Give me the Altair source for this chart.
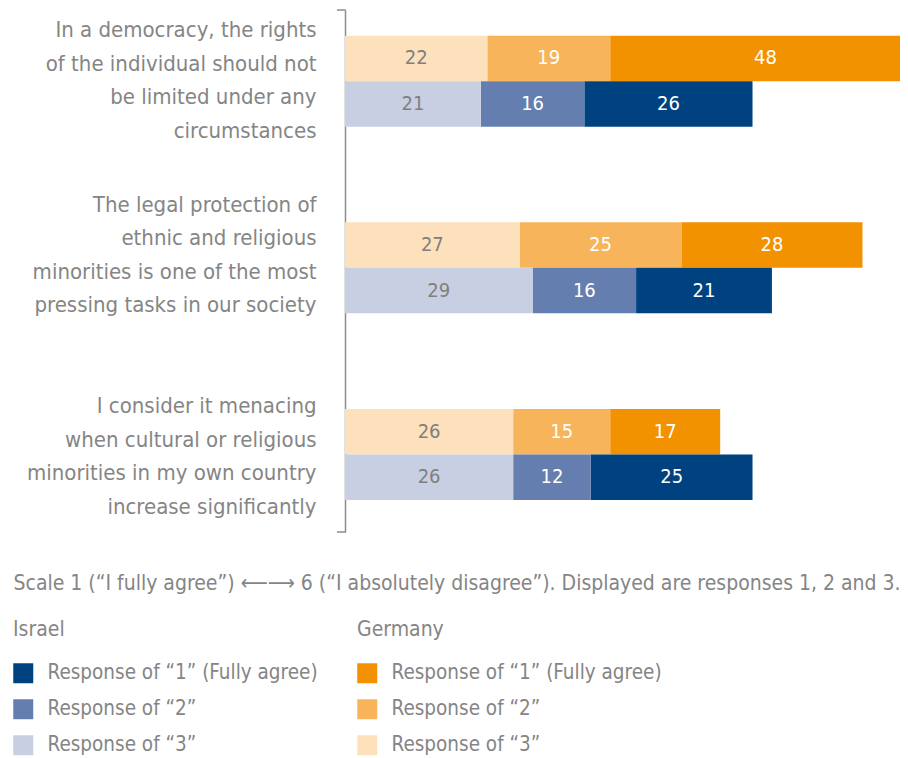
import altair as alt
import pandas as pd

questions = [
    "In a democracy, the rights|of the individual should not|be limited under any|circumstances",
    "The legal protection of|ethnic and religious|minorities is one of the most|pressing tasks in our society",
    "I consider it menacing|when cultural or religious|minorities in my own country|increase significantly",
]
countries = ["Germany", "Israel"]
responses = [1, 2, 3]
resp_labels = ["Response of \u201c1\u201d (Fully agree)", "Response of \u201c2\u201d", "Response of \u201c3\u201d"]

israel_1 = [26, 21, 25]
israel_2 = [16, 16, 12]
israel_3 = [21, 29, 26]
germany_1 = [48, 28, 17]
germany_2 = [19, 25, 15]
germany_3 = [22, 27, 26]

israel_colors = ["#00427f", "#647faf", "#c9cfe3"]
germany_colors = ["#f39200", "#f8b45b", "#fde0bc"]

note = ("Scale 1 (\u201cI fully agree\u201d)  \u27f5\u27f6  6 (\u201cI absolutely disagree\u201d). "
        "Displayed are responses 1, 2 and 3.")

vals = {
    ("Israel", 1): israel_1, ("Israel", 2): israel_2, ("Israel", 3): israel_3,
    ("Germany", 1): germany_1, ("Germany", 2): germany_2, ("Germany", 3): germany_3,
}
rows = []
for qi, q in enumerate(questions):
    for c in countries:
        for r, lab in zip(responses, resp_labels):
            rows.append({"question": q, "country": c, "resp": r, "label": lab,
                         "ord": 4 - r, "value": vals[(c, r)][qi]})
df = pd.DataFrame(rows)

FONT = "'DejaVu Sans Condensed', 'Liberation Sans Narrow', 'Roboto', sans-serif"
GRAY = "#858585"
AXIS_GRAY = "#8c8c8c"
W = 555
H = 522

base = (
    alt.Chart(df)
    .transform_stack(stack="value", groupby=["question", "country"],
                     sort=[alt.SortField("ord", order="ascending")], as_=["x0", "x1"])
    .transform_calculate(mid="(datum.x0 + datum.x1) / 2")
)

y_enc = alt.Y(
    "question:N", sort=questions, title=None,
    scale=alt.Scale(paddingInner=0.5125, paddingOuter=0.1546, align=0.445),
    axis=alt.Axis(
        domain=True, domainColor=AXIS_GRAY, domainWidth=1.5, ticks=False, grid=False,
        labelExpr="split(datum.label, '|')", labelFontSize=22, labelLineHeight=33.5,
        labelColor=GRAY, labelPadding=29, labelLimit=400, labelAlign="right",
        labelBaseline="middle", labelFont=FONT,
        labelOffset={"condition": [
            {"test": "indexof(datum.value, 'legal') >= 0", "value": -63},
            {"test": "indexof(datum.value, 'menacing') >= 0", "value": -48},
        ], "value": -51},
    ),
)
yoff = alt.YOffset("country:N", scale=alt.Scale(domain=countries, paddingInner=0, paddingOuter=0))
x_scale = alt.Scale(domain=[0, 85.8], nice=False, zero=True)
x_axis = alt.Axis(
    domain=False, ticks=False, labels=False, grid=False, title=note,
    titleFontSize=21, titleColor=GRAY, titleFontWeight="normal", titleFont=FONT,
    titleX=-332, titleY=51, titleAlign="left", titleAnchor="start", titleBaseline="middle",
)


def legend(title, lx):
    return alt.Legend(
        title=title, orient="none", legendX=lx, legendY=609, direction="vertical",
        symbolType="square", symbolSize=400, symbolStrokeWidth=0, symbolOpacity=1,
        labelFontSize=20.5, titleFontSize=21, labelColor=GRAY, titleColor=GRAY,
        titleFontWeight="normal", titlePadding=23, rowPadding=15, labelOffset=14,
        labelLimit=400, padding=0, labelFont=FONT, titleFont=FONT,
    )


def layer(country, colors, lx):
    b = base.transform_filter(alt.datum.country == country)
    bars = b.mark_bar(clip=True).encode(
        y=y_enc, yOffset=yoff,
        x=alt.X("x0:Q", scale=x_scale, axis=x_axis),
        x2="x1:Q",
        color=alt.Color("label:N", scale=alt.Scale(domain=resp_labels, range=colors),
                        legend=legend(country, lx)),
    )
    text = b.mark_text(fontSize=20, font=FONT, baseline="middle", align="center").encode(
        y=y_enc, yOffset=yoff,
        x=alt.X("mid:Q", scale=x_scale, axis=x_axis),
        text="value:Q",
        fill=alt.condition("datum.resp == 3", alt.value("#7f7f7f"), alt.value("white")),
    )
    return bars, text


de_bars, de_text = layer("Germany", germany_colors, 12)
il_bars, il_text = layer("Israel", israel_colors, -332)

# small bracket ends of the vertical axis line
ends = pd.DataFrame({"k": [0]})
top_end = alt.Chart(ends).mark_rect(color=AXIS_GRAY).encode(
    x=alt.value(-8), x2=alt.value(0.75), y=alt.value(-0.75), y2=alt.value(0.75))
bot_end = alt.Chart(ends).mark_rect(color=AXIS_GRAY).encode(
    x=alt.value(-8), x2=alt.value(0.75), y=alt.value(H - 0.75), y2=alt.value(H + 0.75))

chart = (
    alt.layer(de_bars, il_bars, de_text, il_text, top_end, bot_end)
    .resolve_scale(color="independent")
    .properties(width=W, height=H,
                autosize=alt.AutoSizeParams(type="none"),
                padding={"left": 337, "right": 0, "top": 2, "bottom": 225})
    .configure(font=FONT, background="white")
    .configure_view(stroke="transparent", strokeOpacity=0)
    .configure_axis(grid=False)
)

chart.save("out.html", embed_options={"renderer": "svg", "actions": False})
